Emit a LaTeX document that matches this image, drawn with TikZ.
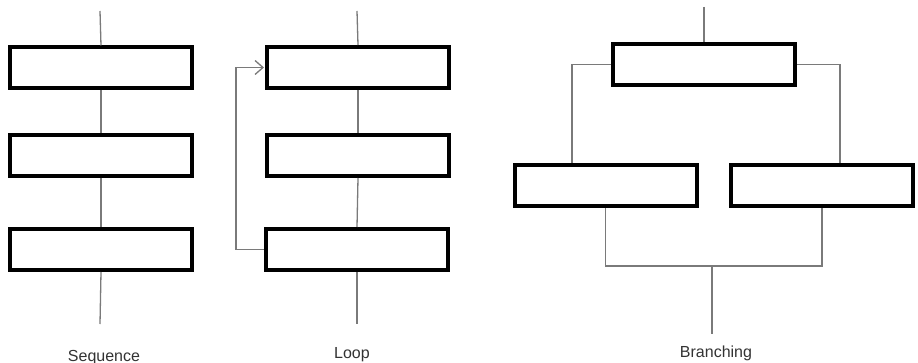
\documentclass[tikz,border=0pt]{standalone}
\usepackage{fontspec}
\setmainfont{Liberation Sans}
\usetikzlibrary{arrows.meta,calc}
\definecolor{linkgray}{HTML}{7A7A7A}
\definecolor{labelgray}{HTML}{333333}
\tikzset{
  stepbox/.style={draw=black, line width=4pt, fill=white, minimum width=182pt, minimum height=41pt, inner sep=0pt},
  link/.style={draw=linkgray, line width=1.3pt},
  caption/.style={anchor=base, text=labelgray, font=\fontsize{16}{19}\selectfont, inner sep=0pt}
}
\begin{document}
\begin{tikzpicture}[x=1pt,y=-1pt]
  \useasboundingbox (0,0) rectangle (918,363);
  \fill[white] (0,0) rectangle (918,363);

  % Sequence
  \node[stepbox] (s1) at (101,68) {};
  \node[stepbox] (s2) at (101,156) {};
  \node[stepbox] (s3) at (101,249.5) {};
  \coordinate (sin) at (100,11);
  \coordinate (sout) at (100,324);
  \draw[link] (sin) -- (s1.north);
  \draw[link] (s1.south) -- (s2.north);
  \draw[link] (s2.south) -- (s3.north);
  \draw[link] (s3.south) -- (sout);
  \node[caption] (lseq) at (104,361) {Sequence};

  % Loop
  \node[stepbox] (l1) at (358,67.5) {};
  \node[stepbox] (l2) at (358,155.5) {};
  \node[stepbox] (l3) at (357,249.5) {};
  \coordinate (lin) at (357,11);
  \coordinate (lout) at (357,324);
  \coordinate (lback) at (236,0);
  \draw[link] (lin) -- (l1.north);
  \draw[link] (l1.south) -- (l2.north);
  \draw[link] (l2.south) -- (l3.north);
  \draw[link] (l3.south) -- (lout);
  \draw[link, -{Straight Barb[length=8pt,width=14pt,line width=1.3pt]}, shorten >=1pt]
    (l3.west) -- (l3.west -| lback) |- (l1.west);
  \node[caption] (lloop) at (352,358) {Loop};

  % Branching
  \node[stepbox] (b0) at (704,64.5) {};
  \node[stepbox] (bl) at (605.5,186) {};
  \node[stepbox] (br) at (822,186) {};
  \coordinate (bin) at (704,7);
  \coordinate (bla) at (572,0);
  \coordinate (bra) at (840,0);
  \coordinate (bj) at (712,266);
  \coordinate (bout) at (712,334);
  \draw[link] (bin) -- (b0.north);
  \draw[link] (b0.west) -| (bl.north -| bla);
  \draw[link] (b0.east) -| (br.north -| bra);
  \draw[link] (bl.south) |- (bj) -| (br.south);
  \draw[link] (bj) -- (bout);
  \node[caption] (lbr) at (716,357) {Branching};
\end{tikzpicture}
\end{document}
